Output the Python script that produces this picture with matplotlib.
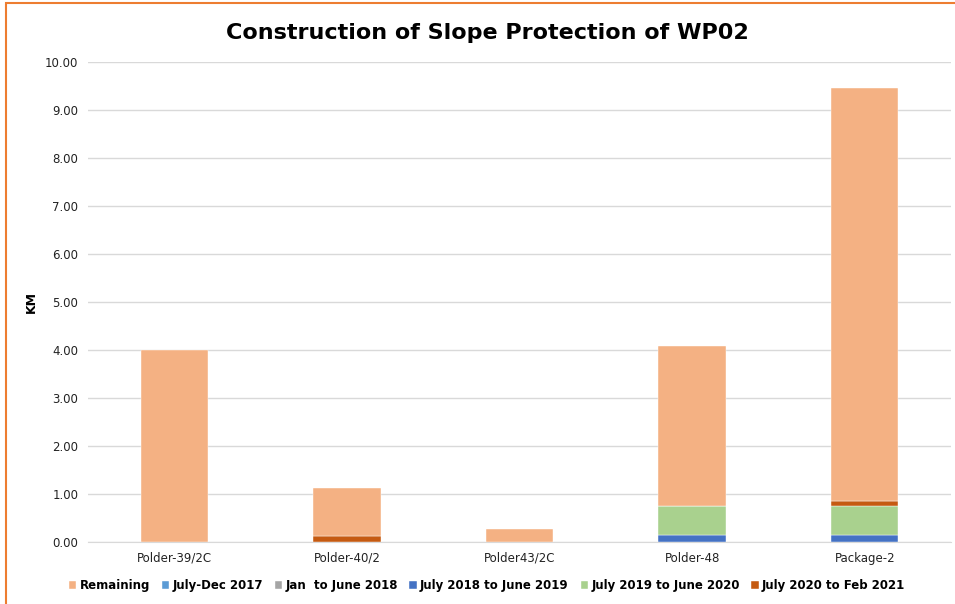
import numpy as np
import matplotlib.pyplot as plt
from matplotlib.patches import Rectangle

# chart data (KM)
categories = ['Polder-39/2C', 'Polder-40/2', 'Polder43/2C', 'Polder-48', 'Package-2']
jul_dec_2017 = [0, 0, 0, 0, 0]
jan_jun_2018 = [0, 0, 0, 0, 0]
jul18_jun19 = [0, 0, 0, 0.14, 0.14]
jul19_jun20 = [0, 0, 0, 0.60, 0.60]
jul20_feb21 = [0, 0.12, 0, 0, 0.12]
remaining = [4.00, 1.01, 0.27, 3.34, 8.60]

series = [
    ('July-Dec 2017', jul_dec_2017, '#5B9BD5'),
    ('Jan  to June 2018', jan_jun_2018, '#A5A5A5'),
    ('July 2018 to June 2019', jul18_jun19, '#4472C4'),
    ('July 2019 to June 2020', jul19_jun20, '#A9D18E'),
    ('July 2020 to Feb 2021', jul20_feb21, '#C55A11'),
    ('Remaining', remaining, '#F4B183'),
]
legend_order = ['Remaining', 'July-Dec 2017', 'Jan  to June 2018',
                'July 2018 to June 2019', 'July 2019 to June 2020',
                'July 2020 to Feb 2021']

fig = plt.figure(figsize=(9.55, 6.04), dpi=100)
# orange chart border
fig.patches.append(Rectangle((0.006, -0.05), 1.1, 1.045, transform=fig.transFigure,
                             fill=False, edgecolor='#ED7D31', linewidth=1.5))
ax = fig.add_axes([88 / 955, 62 / 604, (951 - 88) / 955, 480 / 604])

x = np.arange(len(categories))
bottom = np.zeros(len(categories))
handles = {}
for name, vals, color in series:
    vals = np.array(vals, dtype=float)
    b = ax.bar(x, vals, 0.39, bottom=bottom, color=color, label=name,
               edgecolor='white', linewidth=0.3, zorder=3)
    handles[name] = b
    bottom += vals

ax.set_xlim(-0.5, 4.5)
ax.set_ylim(0, 10)
ax.set_yticks(np.arange(0, 10.01, 1))
ax.set_yticklabels(['{:.2f}'.format(v) for v in np.arange(0, 10.01, 1)])
ax.set_xticks(x)
ax.set_xticklabels(categories)
ax.tick_params(axis='both', length=0, labelsize=8.5, colors='#222222', pad=7)
ax.grid(axis='y', color='#D9D9D9', linewidth=1, zorder=0)
for s in ['top', 'right', 'left']:
    ax.spines[s].set_visible(False)
ax.spines['bottom'].set_color('#D9D9D9')
ax.set_ylabel('KM', fontsize=9, fontweight='bold', labelpad=5)

fig.text(0.51, 0.945, 'Construction of Slope Protection of WP02', ha='center',
         va='center', fontsize=16, fontweight='bold',
         family=['Liberation Sans Narrow', 'DejaVu Sans'])

fig.legend([handles[n] for n in legend_order], legend_order, loc='center',
           bbox_to_anchor=(0.51, 0.03), ncol=6, frameon=False,
           handlelength=0.6, handleheight=0.6,
           handletextpad=0.3, columnspacing=1.0,
           prop={'weight': 'bold', 'size': 8.5})

fig.savefig('out.png', dpi=100)
